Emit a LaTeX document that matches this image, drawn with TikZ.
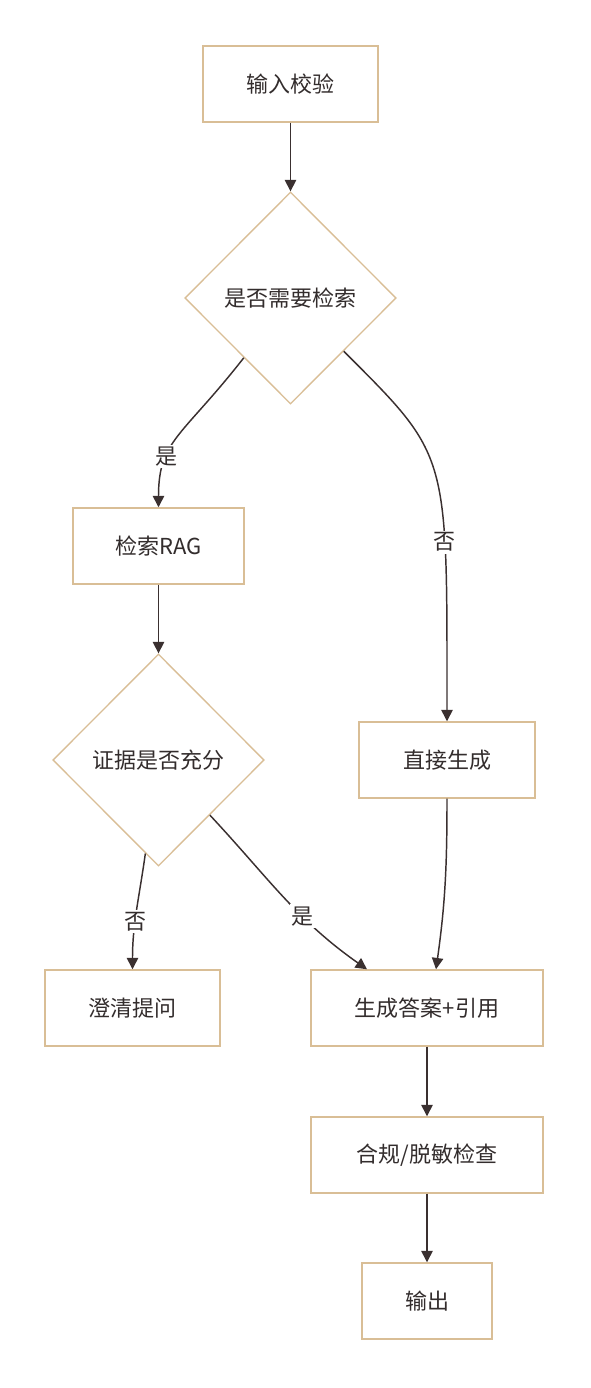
\documentclass[tikz,border=0pt]{standalone}
\usepackage{fontspec}
\setmainfont{Noto Sans CJK SC}
\usetikzlibrary{arrows.meta, shapes.geometric}
\definecolor{boxline}{RGB}{217,190,150}
\definecolor{linec}{RGB}{58,48,48}
\definecolor{txt}{RGB}{51,45,45}

\begin{document}
\begin{tikzpicture}[x=0.75pt,y=-0.75pt,
  box/.style={draw=boxline,line width=1.1pt,fill=white,text=txt,inner sep=0pt,
    minimum height=57pt,font=\fontsize{16.5}{20}\selectfont},
  cond/.style={diamond,draw=boxline,line width=1pt,fill=white,text=txt,inner sep=0pt,
    minimum width=158.5pt,minimum height=159pt,font=\fontsize{16.5}{20}\selectfont},
  lab/.style={fill=white,inner sep=1.5pt,text=txt,font=\fontsize{16.5}{20}\selectfont},
  flow/.style={draw=linec,line width=1.1pt,-{Triangle[length=8.5pt,width=8.5pt]}}]
\useasboundingbox (0,0) rectangle (590,1388);

\node[box,minimum width=131.25pt] (check) at (290.5,84) {输入校验};
\node[cond] (need) at (290.5,298) {是否需要检索};
\node[box,minimum width=128.25pt] (rag) at (158.5,546) {检索RAG};
\node[cond] (enough) at (158.5,760) {证据是否充分};
\node[box,minimum width=132pt] (direct) at (447,760) {直接生成};
\node[box,minimum width=131.25pt] (clarify) at (132.5,1008) {澄清提问};
\node[box,minimum width=174pt] (answer) at (427,1008) {生成答案+引用};
\node[box,minimum width=174pt] (comply) at (427,1155) {合规/脱敏检查};
\node[box,minimum width=97.5pt] (output) at (427,1301) {输出};

\draw[flow] (check) -- (need);
\draw[flow] (need) to[out=232,in=90,out looseness=1.5,in looseness=1] node[lab,pos=0.67] {是} (rag);
\draw[flow] (need) to[out=-45,in=90,in looseness=1.8] node[lab,pos=0.7] {否} (direct);
\draw[flow] (rag) -- (enough);
\draw[flow] (enough) to[out=-98,in=90] node[lab,pos=0.6] {否} (clarify);
\draw[flow] (enough) to[out=-47,in=145] node[lab,pos=0.63] {是} ([xshift=-45pt]answer.north);
\draw[flow] (direct) to[out=-90,in=82] ([xshift=6.75pt]answer.north);
\draw[flow] (answer) -- (comply);
\draw[flow] (comply) -- (output);

\end{tikzpicture}
\end{document}
